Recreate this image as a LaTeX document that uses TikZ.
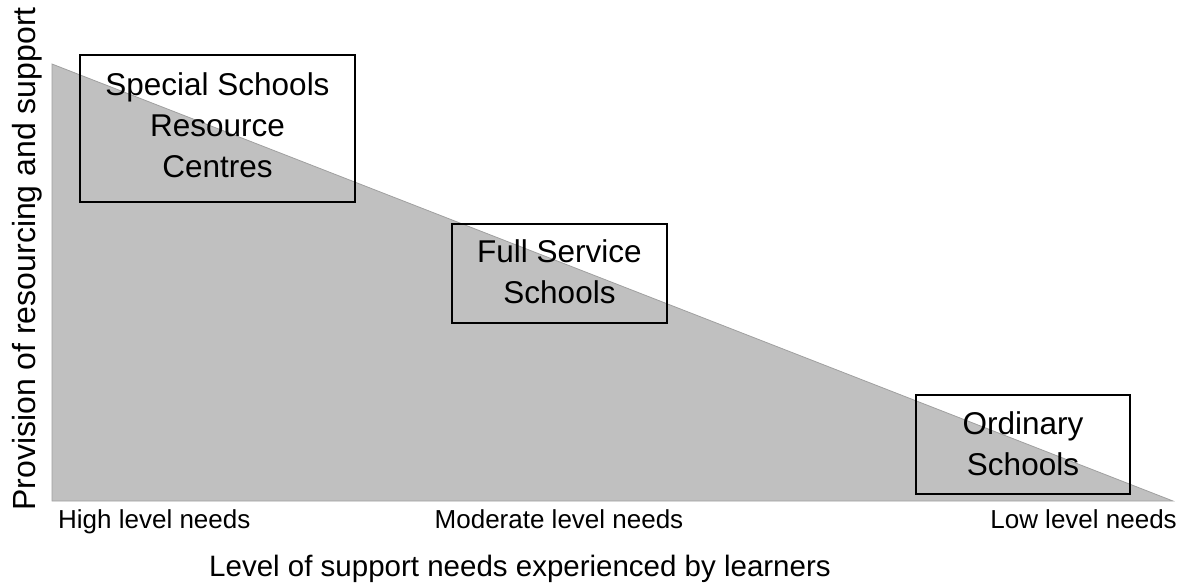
\documentclass[tikz,border=0pt]{standalone}
\usepackage{fontspec}
\setmainfont{Liberation Sans}
\definecolor{trifill}{RGB}{192,192,192}
\definecolor{triedge}{RGB}{160,160,160}
\begin{document}
\begin{tikzpicture}[x=1pt,y=-1pt,
  schoolbox/.style={draw=black,line width=1.6pt},
  boxtext/.style={align=center,font=\fontsize{31.5}{41}\selectfont,inner sep=0pt},
  small/.style={font=\fontsize{26}{30}\selectfont,inner sep=0pt},
  big/.style={font=\fontsize{29.5}{36}\selectfont,inner sep=0pt},
  ybig/.style={font=\fontsize{32}{38}\selectfont,inner sep=0pt}]
\useasboundingbox (0,0) rectangle (1187,582);
% triangle
\fill[trifill,draw=triedge,line width=0.8pt] (52,64) -- (52,501) -- (1173,501) -- cycle;
% boxes
\draw[schoolbox] (80,55) rectangle (355,202);
\node[boxtext] (special) at (217.5,125) {Special Schools\\Resource\\Centres};
\draw[schoolbox] (452,224) rectangle (667,323);
\node[boxtext] (full) at (559.5,272) {Full Service\\Schools};
\draw[schoolbox] (916,395) rectangle (1130,494);
\node[boxtext] (ordinary) at (1023,444) {Ordinary\\Schools};
% axis labels
\node[small,anchor=base west] (high) at (58,528) {High level needs};
\node[small,anchor=base] (moderate) at (559,528) {Moderate level needs};
\node[small,anchor=base east] (low) at (1177,528) {Low level needs};
\node[big,anchor=base] (xtitle) at (520,576) {Level of support needs experienced by learners};
\node[ybig,anchor=base,rotate=90] (ytitle) at (35,259) {Provision of resourcing and support};
\end{tikzpicture}
\end{document}
